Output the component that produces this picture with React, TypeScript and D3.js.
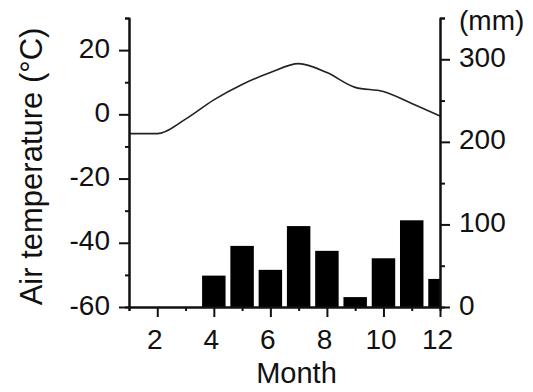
import { useEffect, useRef } from 'react';
import * as d3 from 'd3';

// Monthly climate: air temperature (line, left axis) and precipitation (bars, right axis)
const MONTHS = [1, 2, 3, 4, 5, 6, 7, 8, 9, 10, 11, 12];
const TEMPERATURE = [-6, -6, -1.5, 4.5, 9.3, 13, 15.8, 13, 8.4, 7.1, 3.4, -0.5];
const PRECIP = [0, 0, 0, 38, 74, 45, 98, 68, 12, 59, 105, 34];

const LEFT_TICKS = [-60, -40, -20, 0, 20];
const RIGHT_TICKS = [0, 100, 200, 300];
const X_TICKS = [2, 4, 6, 8, 10, 12];

const W = 533;
const H = 392;
const FONT = '"Liberation Sans", Arial, sans-serif';

export default function App() {
  const svgRef = useRef<SVGSVGElement>(null);

  useEffect(() => {
    if (!svgRef.current) return;
    const svg = d3.select(svgRef.current);
    svg.selectAll('*').remove();

    const left = 129, right = 440, top = 18, bottom = 307;

    const x = d3.scaleLinear().domain([1, 12]).range([left, right]);
    const yT = d3.scaleLinear().domain([-60, 30]).range([bottom, top]);
    const yP = d3.scaleLinear().domain([0, 350]).range([bottom, top]);
    const plain = (d: d3.NumberValue) => String(d);

    svg.append('defs').append('clipPath').attr('id', 'plot')
      .append('rect').attr('x', left).attr('y', top).attr('width', right - left).attr('height', bottom - top);

    // precipitation bars
    const barW = (x(2) - x(1)) * 0.83;
    svg.append('g').attr('clip-path', 'url(#plot)')
      .selectAll('rect')
      .data(MONTHS.map((m, i) => ({ m, v: PRECIP[i] })))
      .join('rect')
      .attr('x', (d) => x(d.m) - barW / 2)
      .attr('y', (d) => yP(d.v))
      .attr('width', barW)
      .attr('height', (d) => bottom - yP(d.v))
      .attr('fill', '#000');

    // temperature line
    const line = d3.line<number>()
      .x((_, i) => x(MONTHS[i]))
      .y((d) => yT(d))
      .curve(d3.curveMonotoneX);
    svg.append('path')
      .attr('d', line(TEMPERATURE))
      .attr('fill', 'none')
      .attr('stroke', '#222')
      .attr('stroke-width', 1.6);

    const axisStyle = (g: d3.Selection<SVGGElement, unknown, null, undefined>) => {
      g.selectAll('path').attr('stroke', '#111').attr('stroke-width', 2);
      g.selectAll('line').attr('stroke', '#111').attr('stroke-width', 2);
      g.selectAll('text').attr('font-family', FONT).attr('font-size', 28).attr('fill', '#111');
    };

    // minor ticks
    const minorL = d3.axisLeft(yT).tickValues([-50, -30, -10, 10, 30]).tickSize(4).tickFormat(() => '');
    const minorR = d3.axisRight(yP).tickValues([50, 150, 250, 350]).tickSize(5).tickFormat(() => '');
    const minorB = d3.axisBottom(x).tickValues([1, 3, 5, 7, 9, 11]).tickSize(4).tickFormat(() => '');
    svg.append('g').attr('transform', `translate(${left},0)`).call(minorL).call(axisStyle);
    svg.append('g').attr('transform', `translate(${right},0)`).call(minorR).call(axisStyle);
    svg.append('g').attr('transform', `translate(0,${bottom})`).call(minorB).call(axisStyle);

    // left axis
    const gl = svg.append('g').attr('transform', `translate(${left},0)`)
      .call(d3.axisLeft(yT).tickValues(LEFT_TICKS).tickSize(10).tickSizeOuter(0).tickPadding(9).tickFormat(plain));
    gl.call(axisStyle);
    gl.selectAll('text').attr('dy', null).attr('y', 7);

    // right axis
    const gr = svg.append('g').attr('transform', `translate(${right},0)`)
      .call(d3.axisRight(yP).tickValues(RIGHT_TICKS).tickSize(10).tickSizeOuter(0).tickPadding(9).tickFormat(plain));
    gr.call(axisStyle);
    gr.selectAll('text').attr('dy', null).attr('y', 7);

    // bottom axis
    const gb = svg.append('g').attr('transform', `translate(0,${bottom})`)
      .call(d3.axisBottom(x).tickValues(X_TICKS).tickSize(10).tickSizeOuter(0).tickFormat(plain));
    gb.call(axisStyle);
    gb.selectAll('text').attr('dy', null).attr('y', 42).attr('x', -3);

    // axis titles
    svg.append('text')
      .attr('transform', `translate(42,${(top + bottom) / 2 + 4}) rotate(-90)`)
      .attr('text-anchor', 'middle')
      .attr('font-family', FONT).attr('font-size', 31).attr('fill', '#111')
      .text('Air temperature (°C)');

    svg.append('text')
      .attr('x', (left + right) / 2 + 12).attr('y', 383)
      .attr('text-anchor', 'middle')
      .attr('font-family', FONT).attr('font-size', 29).attr('fill', '#111')
      .text('Month');

    svg.append('text')
      .attr('x', 459).attr('y', 30)
      .attr('font-family', FONT).attr('font-size', 28).attr('fill', '#111')
      .text('(mm)');
  }, []);

  return (
    <svg ref={svgRef} width={W} height={H}
      style={{ position: 'absolute', left: 0, top: 0, background: '#fff' }} />
  );
}
